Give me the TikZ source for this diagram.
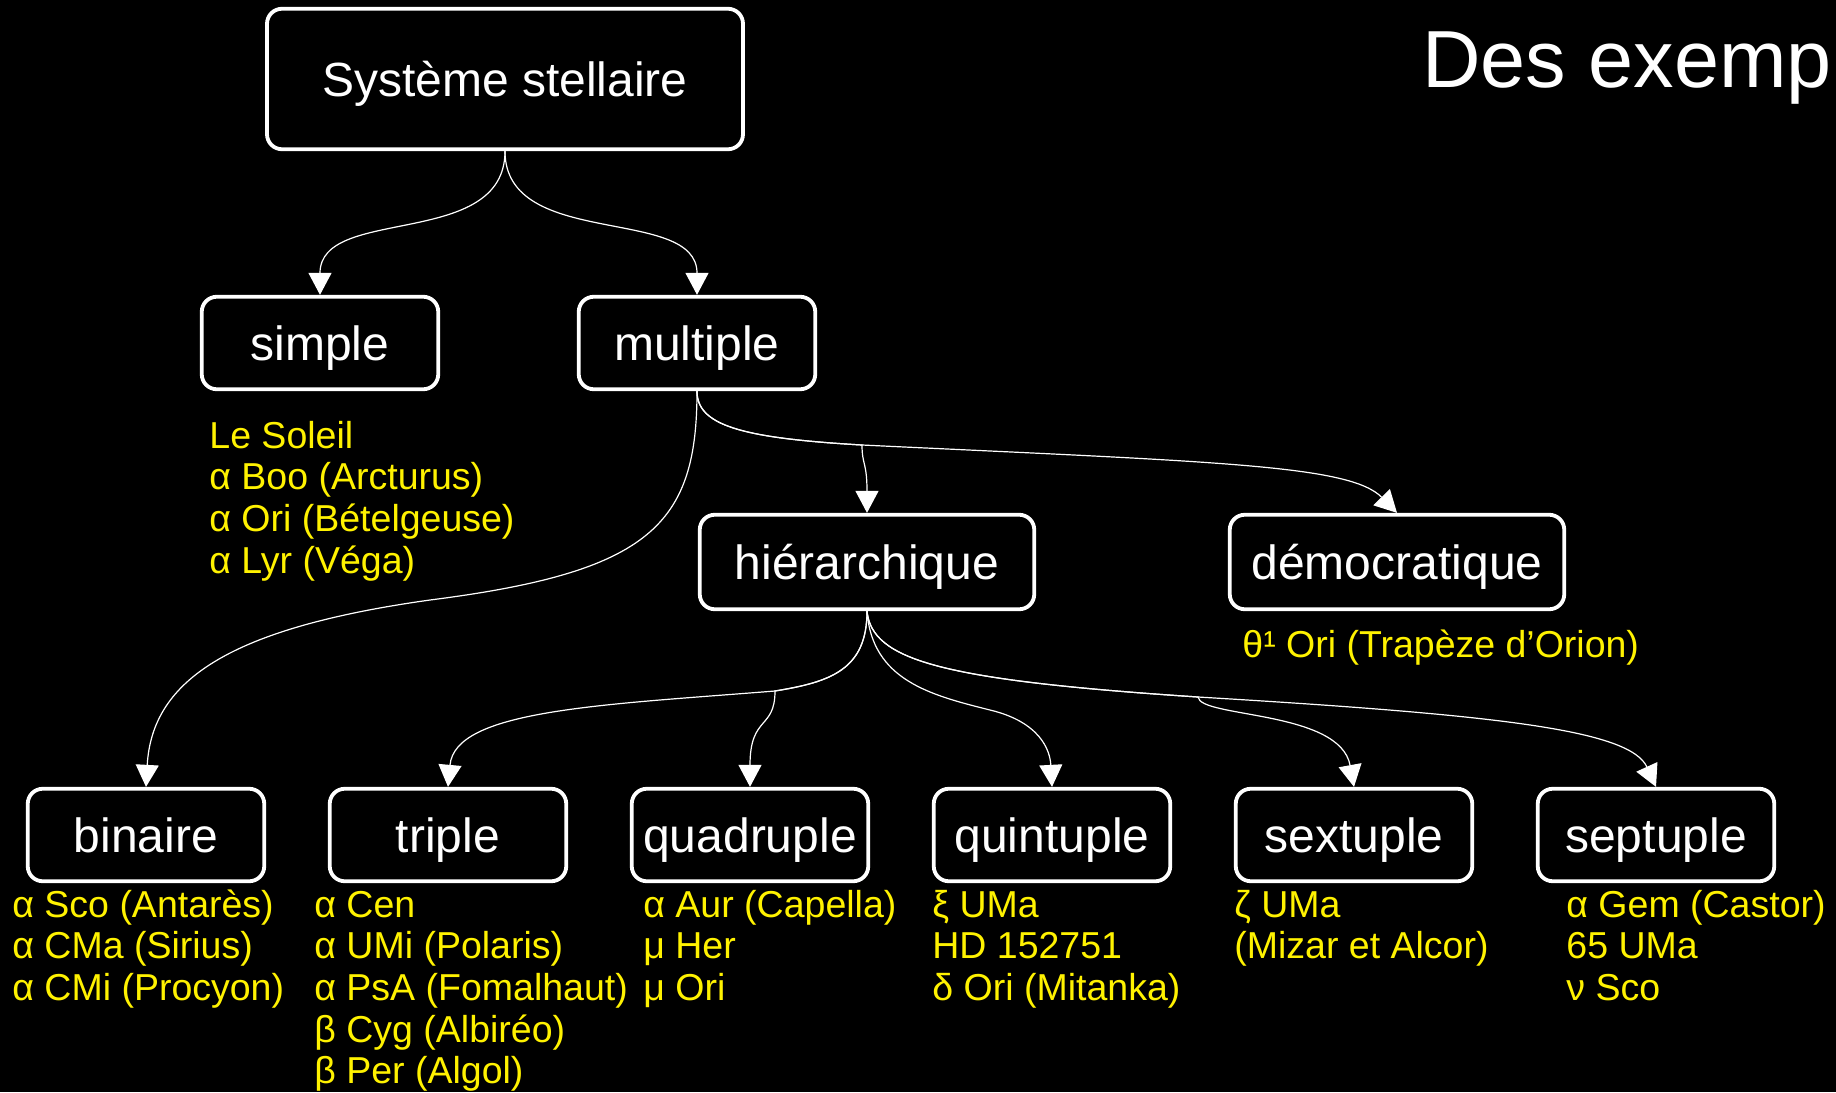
\documentclass[tikz,border=0pt]{standalone}
\usepackage{fontspec}
\setmainfont{Liberation Sans}
\usetikzlibrary{arrows.meta}
\begin{document}
\begin{tikzpicture}[x=0.5pt,y=-0.5pt,
  box/.style={draw=white, line width=1.9pt, rounded corners=7.5pt, fill=black, text=white, inner sep=0pt,
    font=\fontsize{24pt}{28pt}\selectfont, text height=22pt, text depth=5pt},
  bigbox/.style={box, minimum width=238pt, minimum height=70.25pt},
  midbox/.style={box, minimum width=167.25pt, minimum height=47.25pt},
  smlbox/.style={box, minimum width=118.25pt, minimum height=46.25pt},
  star/.style={text=yellow, inner sep=0pt, anchor=base west, font=\fontsize{18.75pt}{21pt}\selectfont},
  edge/.style={draw=white, line width=0.6pt, -{Triangle[length=11pt,width=11.5pt]}}]
\useasboundingbox (0,0) rectangle (1836,1092);
\fill[black] (0,0) rectangle (1836,1092);

% title (cut by the right edge)
\begin{scope}
\clip (0,0) rectangle (1836,1092);
\node[anchor=base west, text=white, inner sep=0pt, font=\fontsize{40.5pt}{48pt}\selectfont] (title) at (1422,87) {Des exemp};
\end{scope}

% boxes
\node[bigbox] (sys) at (505,79) {Système stellaire};
\node[smlbox] (simple) at (320,343) {simple};
\node[smlbox] (mult) at (697,343) {multiple};
\node[midbox] (hier) at (867,562) {hiérarchique};
\node[midbox] (demo) at (1397,562) {démocratique};
\node[smlbox] (bin) at (146,835) {binaire};
\node[smlbox] (tri) at (448,835) {triple};
\node[smlbox] (quad) at (750,835) {quadruple};
\node[smlbox] (quint) at (1052,835) {quintuple};
\node[smlbox] (sext) at (1354,835) {sextuple};
\node[smlbox] (sept) at (1656,835) {septuple};

% yellow example lists
\foreach \t [count=\i from 0] in {Le Soleil, α Boo (Arcturus), α Ori (Bételgeuse), α Lyr (Véga)}
  \node[star] (simple-\i) at (209,{448+41.7*\i}) {\t};
\node[star] (demo-0) at (1242,657) {θ¹ Ori (Trapèze d’Orion)};
\foreach \t [count=\i from 0] in {α Sco (Antarès), α CMa (Sirius), α CMi (Procyon)}
  \node[star] (bin-\i) at (12,{917+41.7*\i}) {\t};
\foreach \t [count=\i from 0] in {α Cen, α UMi (Polaris), α PsA (Fomalhaut), β Cyg (Albiréo), β Per (Algol)}
  \node[star] (tri-\i) at (314,{917+41.7*\i}) {\t};
\foreach \t [count=\i from 0] in {α Aur (Capella), μ Her, μ Ori}
  \node[star] (quad-\i) at (643,{917+41.7*\i}) {\t};
\foreach \t [count=\i from 0] in {ξ UMa, HD 152751, δ Ori (Mitanka)}
  \node[star] (quint-\i) at (932,{917+41.7*\i}) {\t};
\foreach \t [count=\i from 0] in {ζ UMa, (Mizar et Alcor)}
  \node[star] (sext-\i) at (1234,{917+41.7*\i}) {\t};
\foreach \t [count=\i from 0] in {α Gem (Castor), 65 UMa, ν Sco}
  \node[star] (sept-\i) at (1566,{917+41.7*\i}) {\t};

% junction points
\coordinate (jm) at (862,445);
\coordinate (jh1) at (775,691);
\coordinate (jh2) at (1198,697);

% connectors
\draw[edge] (sys.south) .. controls (505,250) and (320,205) .. (simple.north);
\draw[edge] (sys.south) .. controls (505,250) and (697,205) .. (mult.north);
\draw[edge] (mult.south) .. controls (697,525) and (650,572) .. (430,600)
   .. controls (230,628) and (152,680) .. (bin.north);
\draw[edge] (mult.south) .. controls (697,425) and (740,438) .. (jm)
   .. controls (1220,462) and (1350,465) .. (demo.north);
\draw[edge] (mult.south) .. controls (697,425) and (740,438) .. (jm)
   .. controls (862,465) and (867,462) .. (hier.north);
\draw[edge] (hier.south) .. controls (867,670) and (830,682) .. (jh1)
   .. controls (600,705) and (455,710) .. (tri.north);
\draw[edge] (hier.south) .. controls (867,670) and (830,682) .. (jh1)
   .. controls (775,730) and (750,715) .. (quad.north);
\draw[edge] (hier.south) .. controls (872,680) and (930,695) .. (990,710)
   .. controls (1040,722) and (1050,750) .. (quint.north);
\draw[edge] (hier.south) .. controls (872,660) and (940,680) .. (jh2)
   .. controls (1200,718) and (1340,710) .. (sext.north);
\draw[edge] (hier.south) .. controls (872,660) and (940,680) .. (jh2)
   .. controls (1500,715) and (1630,730) .. (sept.north);
\end{tikzpicture}
\end{document}
